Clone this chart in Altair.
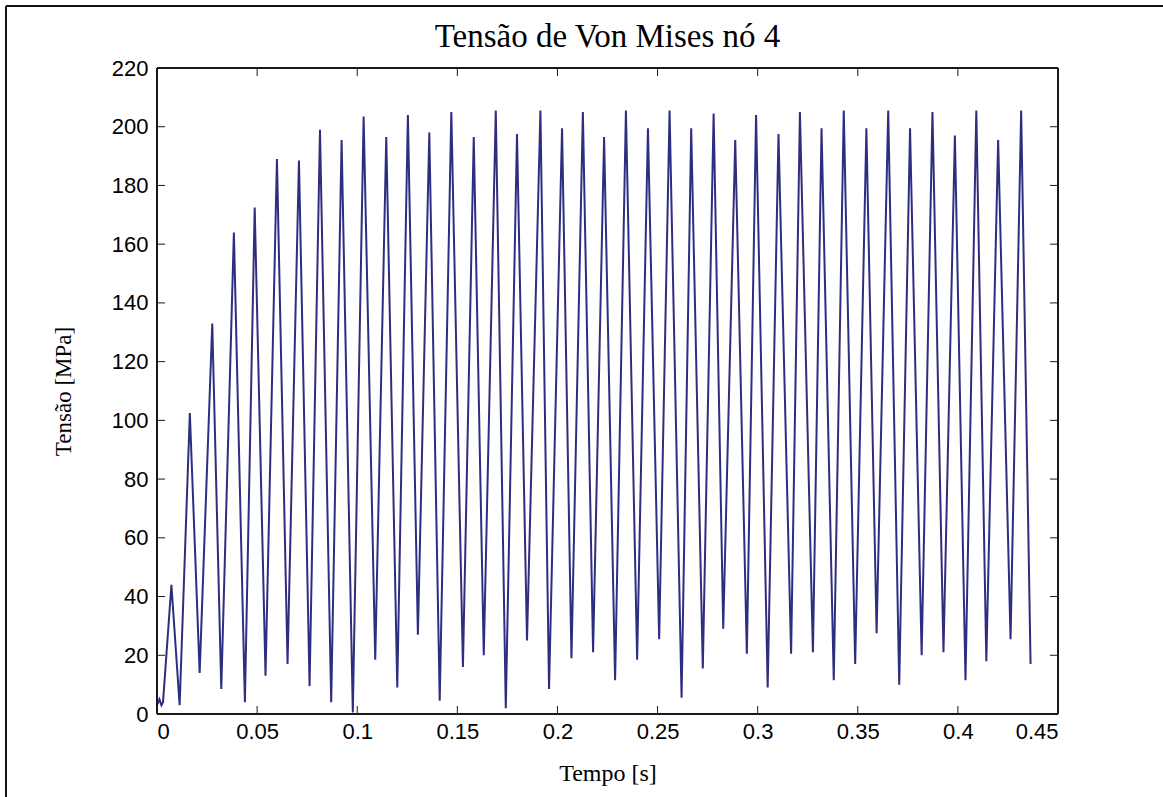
import altair as alt
import pandas as pd

# Extremes (peaks and troughs) of the Von Mises stress signal
tempo = [0.0, 0.0012, 0.0022, 0.003,
         0.0072, 0.0113, 0.0164, 0.0213, 0.0276, 0.0321, 0.0384, 0.0439,
         0.0488, 0.0542, 0.0599, 0.0652, 0.0709, 0.0762, 0.0814, 0.087,
         0.0922, 0.0978, 0.1032, 0.109, 0.1145, 0.12, 0.1253, 0.1303,
         0.136, 0.1412, 0.147, 0.1528, 0.1582, 0.1632, 0.1692, 0.1742,
         0.1798, 0.1848, 0.1915, 0.1958, 0.2023, 0.207, 0.2127, 0.2178,
         0.2233, 0.2288, 0.2342, 0.2398, 0.2452, 0.2508, 0.256, 0.262,
         0.2668, 0.2726, 0.278, 0.2828, 0.2888, 0.2946, 0.2992, 0.305,
         0.3104, 0.3167, 0.3211, 0.3276, 0.3319, 0.338, 0.343, 0.3487,
         0.3543, 0.3594, 0.3652, 0.3707, 0.3761, 0.3819, 0.3873, 0.3928,
         0.3985, 0.4038, 0.4092, 0.4142, 0.4201, 0.4263, 0.4316, 0.4363]
tensao = [3, 5, 3, 4,
          44, 3, 102.5, 14, 133, 8.5, 164, 4,
          172.5, 13, 189, 17, 188.5, 9.5, 199, 4,
          195.5, 0.5, 203.5, 18.5, 196.5, 9, 204, 27,
          198, 4.5, 205, 16, 196.5, 20, 205.5, 2,
          197.5, 25, 205.5, 8.5, 199.5, 19, 205, 21,
          196.5, 11.5, 205.5, 18.5, 199.5, 25.5, 205.5, 5.5,
          199.5, 15.5, 204.5, 29, 195.5, 20.5, 204, 9,
          197.5, 20.5, 205, 21, 199.5, 11.5, 205.5, 17,
          199.5, 27.5, 205.5, 10, 199.5, 20, 205, 21,
          197, 11.5, 205.5, 18, 195.5, 25.5, 205.5, 17]

x_ticks = [0, 0.05, 0.1, 0.15, 0.2, 0.25, 0.3, 0.35, 0.4, 0.45]
y_ticks = [0, 20, 40, 60, 80, 100, 120, 140, 160, 180, 200, 220]
titulo = "Tensão de Von Mises nó 4"

W, H = 901, 646
TICK = 8
SERIF = "Liberation Serif, Times New Roman, serif"
SANS = "Liberation Sans, Arial, sans-serif"

df = pd.DataFrame({"t": tempo, "v": tensao})
xt = pd.DataFrame({"t": x_ticks})
yt = pd.DataFrame({"v": y_ticks})

xscale = alt.Scale(domain=[0, 0.45], nice=False, zero=False)
yscale = alt.Scale(domain=[0, 220], nice=False, zero=False)

line = alt.Chart(df).mark_line(color="#2e2e80", strokeWidth=2).encode(
    x=alt.X("t:Q", scale=xscale,
            axis=alt.Axis(values=x_ticks, format="~g", title="Tempo [s]",
                          ticks=False, tickSize=0, domain=False, grid=False,
                          labelFont=SANS, labelFontSize=22, labelColor="black",
                          labelPadding=7, titleFont=SERIF, titleFontSize=24,
                          titleFontWeight="normal", titleColor="black",
                          titleX=W / 2, titleY=59, titleBaseline="middle",
                          titleAlign="center")),
    y=alt.Y("v:Q", scale=yscale,
            axis=alt.Axis(values=y_ticks, format="d", title="Tensão [MPa]",
                          ticks=False, tickSize=0, domain=False, grid=False,
                          labelFont=SANS, labelFontSize=22, labelColor="black",
                          labelPadding=9, titleFont=SERIF, titleFontSize=23,
                          titleFontWeight="normal", titleColor="black",
                          titleAngle=-90, titleX=-94, titleY=H / 2,
                          titleBaseline="middle", titleAlign="center")),
)

tick_color = "#1a1a1a"
bottom_ticks = alt.Chart(xt).mark_rule(color=tick_color, strokeWidth=1).encode(
    x="t:Q", y=alt.value(H - TICK), y2=alt.value(H))
top_ticks = alt.Chart(xt).mark_rule(color=tick_color, strokeWidth=1).encode(
    x="t:Q", y=alt.value(0), y2=alt.value(TICK))
left_ticks = alt.Chart(yt).mark_rule(color=tick_color, strokeWidth=1).encode(
    y="v:Q", x=alt.value(0), x2=alt.value(TICK))
right_ticks = alt.Chart(yt).mark_rule(color=tick_color, strokeWidth=1).encode(
    y="v:Q", x=alt.value(W - TICK), x2=alt.value(W))

box_color = "#1a1a1a"
box_left = alt.Chart(xt).mark_rule(color=box_color, strokeWidth=1.3).encode(
    x=alt.value(0), y=alt.value(0), y2=alt.value(H))
box_right = alt.Chart(xt).mark_rule(color=box_color, strokeWidth=1.3).encode(
    x=alt.value(W), y=alt.value(0), y2=alt.value(H))
box_top = alt.Chart(xt).mark_rule(color=box_color, strokeWidth=1.3).encode(
    y=alt.value(0), x=alt.value(0), x2=alt.value(W))
box_bottom = alt.Chart(xt).mark_rule(color=box_color, strokeWidth=1.3).encode(
    y=alt.value(H), x=alt.value(0), x2=alt.value(W))

frame_left = alt.Chart(xt).mark_rule(color="#111111", strokeWidth=2).encode(
    x=alt.value(-151), y=alt.value(-62), y2=alt.value(797 - 68))
frame_top = alt.Chart(xt).mark_rule(color="#111111", strokeWidth=2).encode(
    y=alt.value(-62), x=alt.value(-151), x2=alt.value(1163 - 157))

title_mark = alt.Chart(pd.DataFrame({"titulo": [titulo]})).mark_text(
    font=SERIF, fontSize=33, color="black", align="center", baseline="alphabetic"
).encode(x=alt.value(W / 2), y=alt.value(-21), text="titulo:N")

chart = alt.layer(
    line, bottom_ticks, top_ticks, left_ticks, right_ticks,
    box_left, box_right, box_top, box_bottom, frame_left, frame_top, title_mark
).properties(
    width=W, height=H,
    autosize=alt.AutoSizeParams(type="none"),
    padding={"left": 157, "top": 68, "right": 105, "bottom": 83},
).configure_view(
    stroke=None
).configure(background="white")

chart.save("out.html", embed_options={"renderer": "svg", "actions": False})
